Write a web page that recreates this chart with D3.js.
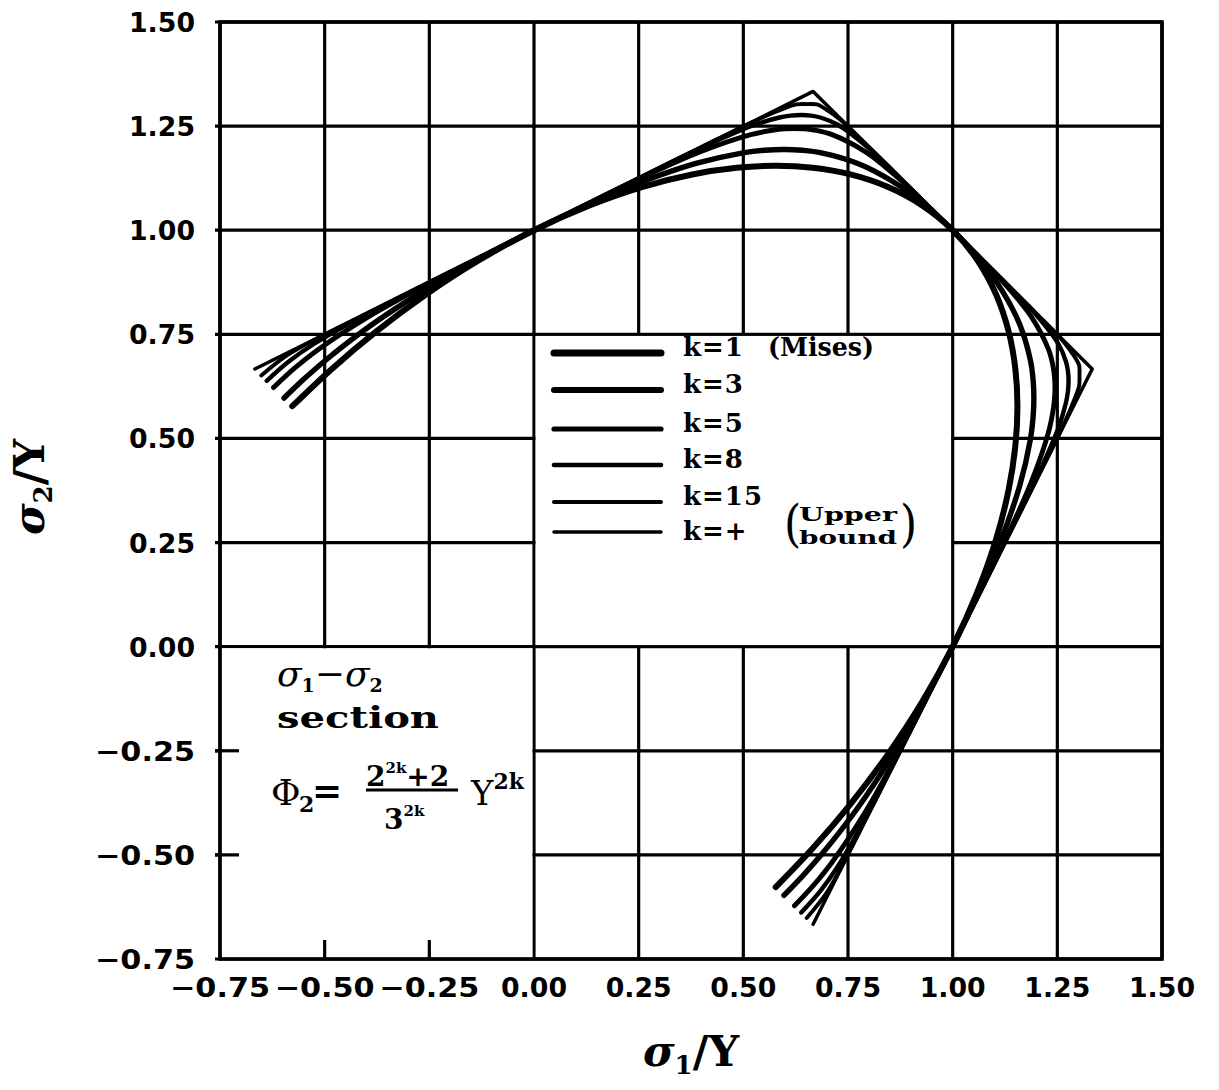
<!DOCTYPE html>
<html>
<head>
<meta charset="utf-8">
<script src="https://cdn.jsdelivr.net/npm/d3@7"></script>
<style>
  body { margin: 0; background: #fff; }
  svg { display: block; }
</style>
</head>
<body>
<svg id="chart" width="1219" height="1090"></svg>
<script>
// Axis ticks (both axes share the same range)
const tickValues = [-0.75, -0.5, -0.25, 0, 0.25, 0.5, 0.75, 1, 1.25, 1.5];
const tickLabels = ["−0.75", "−0.50", "−0.25", "0.00", "0.25", "0.50", "0.75", "1.00", "1.25", "1.50"];

// Yield loci in the sigma1-sigma2 plane, each from pure shear (upper left) to pure shear (lower right)
const locusK1 = [
  [-0.5774, 0.5774], [-0.4842, 0.6658], [-0.3780, 0.7559], [-0.2598, 0.8444], [-0.1325, 0.9272],
  [0, 1], [0.1325, 1.0596], [0.2598, 1.1043], [0.3780, 1.1339], [0.4842, 1.1499], [0.5774, 1.1547],
  [0.6658, 1.1499], [0.7559, 1.1339], [0.8444, 1.1043], [0.9272, 1.0596], [1, 1],
  [1.0596, 0.9272], [1.1043, 0.8444], [1.1339, 0.7559], [1.1499, 0.6658], [1.1547, 0.5774],
  [1.1499, 0.4842], [1.1339, 0.3780], [1.1043, 0.2598], [1.0596, 0.1325], [1, 0],
  [0.9272, -0.1325], [0.8444, -0.2598], [0.7559, -0.3780], [0.6658, -0.4842], [0.5774, -0.5774]
];
const locusK3 = [
  [-0.5970, 0.5970], [-0.5502, 0.6419], [-0.4993, 0.6866], [-0.3868, 0.7735], [-0.2631, 0.8550],
  [-0.1329, 0.9304], [0, 1], [0.1329, 1.0633], [0.2631, 1.1181], [0.3868, 1.1603], [0.4993, 1.1859],
  [0.5502, 1.1920], [0.5970, 1.1940], [0.6419, 1.1920], [0.6866, 1.1859], [0.7735, 1.1603],
  [0.8550, 1.1181], [0.9304, 1.0633], [1, 1],
  [1.0633, 0.9304], [1.1181, 0.8550], [1.1603, 0.7735], [1.1859, 0.6866], [1.1920, 0.6419],
  [1.1940, 0.5970], [1.1920, 0.5502], [1.1859, 0.4993], [1.1603, 0.3868], [1.1181, 0.2631],
  [1.0633, 0.1329], [1, 0], [0.9304, -0.1329], [0.8550, -0.2631], [0.7735, -0.3868],
  [0.6866, -0.4993], [0.6419, -0.5502], [0.5970, -0.5970]
];
const locusK5 = [
  [-0.6221, 0.6221], [-0.5726, 0.6680], [-0.5177, 0.7119], [-0.3960, 0.7920], [-0.2660, 0.8644],
  [-0.1333, 0.9329], [0, 1], [0.1333, 1.0662], [0.2660, 1.1304], [0.3960, 1.1881], [0.5177, 1.2296],
  [0.5726, 1.2407], [0.5981, 1.2434], [0.6221, 1.2443], [0.6453, 1.2434], [0.6680, 1.2407],
  [0.7119, 1.2296], [0.7920, 1.1881], [0.8644, 1.1304], [0.9329, 1.0662], [1, 1],
  [1.0662, 0.9329], [1.1304, 0.8644], [1.1881, 0.7920], [1.2296, 0.7119], [1.2407, 0.6680],
  [1.2434, 0.6453], [1.2443, 0.6221], [1.2434, 0.5981], [1.2407, 0.5726], [1.2296, 0.5177],
  [1.1881, 0.3960], [1.1304, 0.2660], [1.0662, 0.1333], [1, 0], [0.9329, -0.1333],
  [0.8644, -0.2660], [0.7920, -0.3960], [0.7119, -0.5177], [0.6680, -0.5726], [0.6221, -0.6221]
];
const locusK8 = [
  [-0.6384, 0.6384], [-0.5865, 0.6842], [-0.5277, 0.7256], [-0.3993, 0.7986], [-0.2666, 0.8665],
  [-0.1333, 0.9333], [0, 1], [0.1333, 1.0667], [0.2666, 1.1331], [0.3993, 1.1979], [0.5277, 1.2533],
  [0.5865, 1.2707], [0.6134, 1.2753], [0.6384, 1.2768], [0.6619, 1.2753], [0.6842, 1.2707],
  [0.7256, 1.2533], [0.7986, 1.1979], [0.8665, 1.1331], [0.9333, 1.0667], [1, 1],
  [1.0667, 0.9333], [1.1331, 0.8665], [1.1979, 0.7986], [1.2533, 0.7256], [1.2707, 0.6842],
  [1.2753, 0.6619], [1.2768, 0.6384], [1.2753, 0.6134], [1.2707, 0.5865], [1.2533, 0.5277],
  [1.1979, 0.3993], [1.1331, 0.2666], [1.0667, 0.1333], [1, 0], [0.9333, -0.1333],
  [0.8665, -0.2666], [0.7986, -0.3993], [0.7256, -0.5277], [0.6842, -0.5865], [0.6384, -0.6384]
];
const locusK15 = [
  [-0.6514, 0.6514], [-0.5961, 0.6955], [-0.5326, 0.7323], [-0.4000, 0.8000], [-0.2667, 0.8667],
  [-0.1333, 0.9333], [0, 1], [0.1333, 1.0667], [0.2667, 1.1333], [0.4000, 1.2000], [0.5326, 1.2649],
  [0.5961, 1.2916], [0.6263, 1.3020], [0.6514, 1.3029], [0.6757, 1.3020], [0.6955, 1.2916],
  [0.7323, 1.2649], [0.8000, 1.2000], [0.8667, 1.1333], [0.9333, 1.0667], [1, 1],
  [1.0667, 0.9333], [1.1333, 0.8667], [1.2000, 0.8000], [1.2649, 0.7323], [1.2916, 0.6955],
  [1.3020, 0.6757], [1.3029, 0.6514], [1.3020, 0.6263], [1.2916, 0.5961], [1.2649, 0.5326],
  [1.2000, 0.4000], [1.1333, 0.2667], [1.0667, 0.1333], [1, 0], [0.9333, -0.1333],
  [0.8667, -0.2667], [0.8000, -0.4000], [0.7323, -0.5326], [0.6955, -0.5961], [0.6514, -0.6514]
];
const locusUpper = [
  [-0.6667, 0.6667], [0, 1], [0.6667, 1.3333], [1, 1], [1.3333, 0.6667], [1, 0], [0.6667, -0.6667]
];

const seriesNames = ["k=1", "k=3", "k=5", "k=8", "k=15", "k=+"];
const seriesNotes = ["(Mises)", "", "", "", "", ""];
const seriesData = [locusK1, locusK3, locusK5, locusK8, locusK15, locusUpper];

// ---- drawing ----
const svg = d3.select("#chart");
const x = d3.scaleLinear().domain([-0.75, 1.5]).range([220, 1162]);
const y = d3.scaleLinear().domain([-0.75, 1.5]).range([959, 22]);

const SANS = "'DejaVu Sans', sans-serif";
const SERIF = "'DejaVu Serif', serif";

// grid lines
const grid = svg.append("g").attr("stroke", "#000").attr("stroke-width", 3.2);
grid.selectAll("line.v").data(tickValues).join("line")
  .attr("x1", d => x(d)).attr("x2", d => x(d))
  .attr("y1", y(1.5)).attr("y2", y(-0.75));
grid.selectAll("line.h").data(tickValues).join("line")
  .attr("y1", d => y(d)).attr("y2", d => y(d))
  .attr("x1", x(-0.75) - 5).attr("x2", x(1.5));

// blank panels (legend and annotation) that interrupt the grid
const panels = [
  { x0: 0, x1: 1, y0: 0, y1: 0.75 },
  { x0: -0.75, x1: 0, y0: -0.75, y1: 0 }
];
svg.append("g").selectAll("rect").data(panels).join("rect")
  .attr("x", d => x(d.x0) + 1.6)
  .attr("y", d => y(d.y1) + 1.6)
  .attr("width", d => x(d.x1) - x(d.x0) - 3.2)
  .attr("height", d => y(d.y0) - y(d.y1) - 3.2)
  .attr("fill", "#fff");

// short inner ticks inside the lower-left panel
const inner = svg.append("g").attr("stroke", "#000").attr("stroke-width", 3.2);
inner.selectAll("line.bx").data([-0.5, -0.25]).join("line")
  .attr("x1", d => x(d)).attr("x2", d => x(d))
  .attr("y1", y(-0.75)).attr("y2", y(-0.75) - 19);
inner.selectAll("line.ly").data([-0.5, -0.25]).join("line")
  .attr("y1", d => y(d)).attr("y2", d => y(d))
  .attr("x1", x(-0.75) - 5).attr("x2", x(-0.75) + 19);

// frame
svg.append("rect")
  .attr("x", x(-0.75)).attr("y", y(1.5))
  .attr("width", x(1.5) - x(-0.75)).attr("height", y(-0.75) - y(1.5))
  .attr("fill", "none").attr("stroke", "#000").attr("stroke-width", 3.6);

// tick labels
const labelWidth = s => (s.length > 4 ? 100 : 66);
svg.append("g").selectAll("text").data(tickValues).join("text")
  .attr("x", d => x(d)).attr("y", 997)
  .attr("text-anchor", "middle")
  .attr("font-family", SANS).attr("font-weight", "bold").attr("font-size", 27)
  .attr("textLength", (d, i) => labelWidth(tickLabels[i])).attr("lengthAdjust", "spacingAndGlyphs")
  .text((d, i) => tickLabels[i]);
svg.append("g").selectAll("text").data(tickValues).join("text")
  .attr("x", 195).attr("y", d => y(d) + 10)
  .attr("text-anchor", "end")
  .attr("font-family", SANS).attr("font-weight", "bold").attr("font-size", 27)
  .attr("textLength", (d, i) => labelWidth(tickLabels[i])).attr("lengthAdjust", "spacingAndGlyphs")
  .text((d, i) => tickLabels[i]);

// loci
const widths = [6, 5.4, 4.9, 4.4, 3.9, 3.5];
const smooth = d3.line().x(d => x(d[0])).y(d => y(d[1])).curve(d3.curveCatmullRom.alpha(0.5));
const straight = d3.line().x(d => x(d[0])).y(d => y(d[1]));
svg.append("g").selectAll("path").data(seriesData).join("path")
  .attr("d", (d, i) => (i === seriesData.length - 1 ? straight : smooth)(d))
  .attr("fill", "none").attr("stroke", "#000")
  .attr("stroke-width", (d, i) => widths[i])
  .attr("stroke-linejoin", "round").attr("stroke-linecap", "round");

// legend
const legendY = [353, 390, 429, 465, 502, 532];
const legendW = [7, 6, 5.2, 4.6, 4, 3.5];
const legend = svg.append("g");
legend.selectAll("line").data(seriesNames).join("line")
  .attr("x1", 554).attr("x2", 661)
  .attr("y1", (d, i) => legendY[i]).attr("y2", (d, i) => legendY[i])
  .attr("stroke", "#000").attr("stroke-width", (d, i) => legendW[i])
  .attr("stroke-linecap", "round");
legend.selectAll("text.k").data(seriesNames).join("text")
  .attr("x", 683).attr("y", (d, i) => legendY[i] + (i === 5 ? 8 : 3))
  .attr("font-family", SERIF).attr("font-weight", "bold").attr("font-size", 26)
  .attr("letter-spacing", 1)
  .text(d => d);
legend.append("text").attr("x", 768).attr("y", 356)
  .attr("font-family", SERIF).attr("font-weight", "bold").attr("font-size", 26)
  .attr("textLength", 106).attr("lengthAdjust", "spacingAndGlyphs")
  .text(seriesNotes[0]);
// "(Upper bound)" stacked note
const ub = legend.append("g").attr("font-family", SERIF).attr("font-weight", "bold");
ub.append("text").attr("x", 784).attr("y", 541).attr("font-size", 44).attr("font-weight", "normal")
  .attr("transform", "translate(784,541) scale(1,1.15) translate(-784,-541)").text("(");
ub.append("text").attr("x", 799).attr("y", 521).attr("font-size", 19)
  .attr("textLength", 98).attr("lengthAdjust", "spacingAndGlyphs").text("Upper");
ub.append("text").attr("x", 799).attr("y", 544).attr("font-size", 19)
  .attr("textLength", 98).attr("lengthAdjust", "spacingAndGlyphs").text("bound");
ub.append("text").attr("x", 900).attr("y", 541).attr("font-size", 44).attr("font-weight", "normal")
  .attr("transform", "translate(900,541) scale(1,1.15) translate(-900,-541)").text(")");

// annotation in the lower-left panel
const ann = svg.append("g").attr("font-family", SERIF).attr("font-weight", "bold");
const t1 = ann.append("text").attr("x", 277).attr("y", 686).attr("font-size", 36);
t1.append("tspan").attr("font-style", "italic").attr("font-weight", "normal").text("σ");
t1.append("tspan").attr("font-size", 19).attr("dy", 6).text("1");
t1.append("tspan").attr("dy", -6).attr("font-weight", "normal").text("−");
t1.append("tspan").attr("font-style", "italic").attr("font-weight", "normal").text("σ");
t1.append("tspan").attr("font-size", 19).attr("dy", 6).text("2");
ann.append("text").attr("x", 277).attr("y", 728).attr("font-size", 30)
  .attr("textLength", 162).attr("lengthAdjust", "spacingAndGlyphs").text("section");

const f = ann.append("g");
f.append("text").attr("x", 271).attr("y", 805).attr("font-size", 36).attr("font-weight", "normal").text("Φ");
f.append("text").attr("x", 299).attr("y", 812).attr("font-size", 22).text("2");
f.append("text").attr("x", 312).attr("y", 803).attr("font-size", 36).text("=");
const num = f.append("text").attr("x", 366).attr("y", 786).attr("font-size", 28);
num.append("tspan").text("2");
num.append("tspan").attr("font-size", 15).attr("dy", -13).text("2k");
num.append("tspan").attr("dy", 13).text("+2");
f.append("line").attr("x1", 366).attr("x2", 458).attr("y1", 790).attr("y2", 790)
  .attr("stroke", "#000").attr("stroke-width", 3);
const den = f.append("text").attr("x", 384).attr("y", 829).attr("font-size", 28);
den.append("tspan").text("3");
den.append("tspan").attr("font-size", 15).attr("dy", -13).text("2k");
const yy = f.append("text").attr("x", 471).attr("y", 805).attr("font-size", 34).attr("font-weight", "normal");
yy.append("tspan").text("Y");
yy.append("tspan").attr("font-size", 22).attr("font-weight", "bold").attr("dy", -16).text("2k");

// axis titles
const xt = svg.append("text").attr("x", 691).attr("y", 1066)
  .attr("text-anchor", "middle").attr("font-family", SERIF).attr("font-weight", "bold").attr("font-size", 43);
xt.append("tspan").attr("font-style", "italic").text("σ");
xt.append("tspan").attr("font-size", 26).attr("dy", 8).text("1");
xt.append("tspan").attr("dy", -8).text("/Y");

const yt = svg.append("text").attr("transform", "translate(44,487) rotate(-90)")
  .attr("text-anchor", "middle").attr("font-family", SERIF).attr("font-weight", "bold").attr("font-size", 43);
yt.append("tspan").attr("font-style", "italic").text("σ");
yt.append("tspan").attr("font-size", 26).attr("dy", 8).text("2");
yt.append("tspan").attr("dy", -8).text("/Y");
</script>
</body>
</html>
